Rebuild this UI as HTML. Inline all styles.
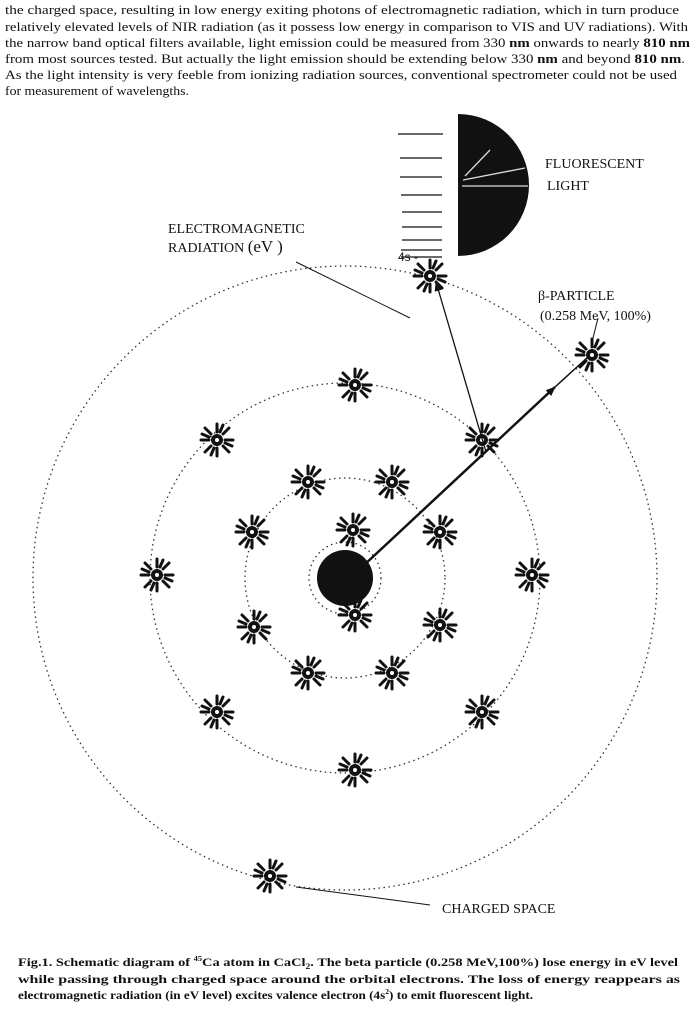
<!DOCTYPE html>
<html><head><meta charset="utf-8"><style>
body{margin:0;width:699px;height:1012px;background:#fff;position:relative;overflow:hidden;font-family:"Liberation Serif",serif;color:#111}
svg{position:absolute;left:0;top:0}
</style></head><body>
<svg width="699" height="1012" viewBox="0 0 699 1012">
<defs>
<g id="e">
<circle r="6" fill="#111"/>
<g stroke="#111" stroke-width="3" stroke-linecap="round">
<line x1="0" y1="-8" x2="0" y2="-16"/><line x1="0" y1="8" x2="0" y2="16"/>
<line x1="-8" y1="0" x2="-16" y2="0"/><line x1="8" y1="0" x2="16" y2="0"/>
<line x1="6" y1="6" x2="12" y2="12"/><line x1="-6" y1="6" x2="-12" y2="12"/>
<line x1="6" y1="-6" x2="12" y2="-12"/><line x1="-6" y1="-6" x2="-12" y2="-12"/>
<line x1="3" y1="-8" x2="6" y2="-15"/><line x1="-3" y1="8" x2="-6" y2="15"/>
<line x1="8" y1="3" x2="15" y2="6"/><line x1="-8" y1="-3" x2="-15" y2="-6"/>
</g><circle r="2" fill="#fff"/>
</g>
<marker id="a" markerWidth="10" markerHeight="8" refX="9" refY="4" orient="auto" markerUnits="userSpaceOnUse"><path d="M0,0 L10,4 L0,8 Z" fill="#111"/></marker>
</defs>
<g font-family="Liberation Serif,serif" font-size="13" fill="#111">
<text x="5" y="14" textLength="674" lengthAdjust="spacingAndGlyphs">the charged space, resulting in low energy exiting photons of electromagnetic radiation, which in turn produce</text>
<text x="5" y="31" textLength="683" lengthAdjust="spacingAndGlyphs">relatively elevated levels of NIR radiation (as it possess low energy in comparison to VIS and UV radiations). With</text>
<text x="5" y="47" textLength="685" lengthAdjust="spacingAndGlyphs">the narrow band optical filters available, light emission could be measured from 330 <tspan font-weight="bold">nm</tspan> onwards to nearly <tspan font-weight="bold">810 nm</tspan></text>
<text x="5" y="63" textLength="680" lengthAdjust="spacingAndGlyphs">from most sources tested. But actually the light emission should be extending below 330 <tspan font-weight="bold">nm</tspan> and beyond <tspan font-weight="bold">810 nm</tspan>.</text>
<text x="5" y="79" textLength="672" lengthAdjust="spacingAndGlyphs">As the light intensity is very feeble from ionizing radiation sources, conventional spectrometer could not be used</text>
<text x="5" y="95" textLength="184" lengthAdjust="spacingAndGlyphs">for measurement of wavelengths.</text>
</g>
<g font-family="Liberation Serif,serif" font-size="12" font-weight="bold" fill="#111">
<text x="18" y="966" textLength="660" lengthAdjust="spacingAndGlyphs">Fig.1. Schematic diagram of <tspan font-size="7" dy="-5">45</tspan><tspan dy="5">Ca atom in CaCl</tspan><tspan font-size="8" dy="3">2</tspan><tspan dy="-3">. The beta particle (0.258 MeV,100%) lose energy in eV level</tspan></text>
<text x="18" y="983" textLength="662" lengthAdjust="spacingAndGlyphs">while passing through charged space around the orbital electrons. The loss of energy reappears as</text>
<text x="18" y="999" textLength="515" lengthAdjust="spacingAndGlyphs">electromagnetic radiation (in eV level) excites valence electron (4s<tspan font-size="7" dy="-5">2</tspan><tspan dy="5">) to emit fluorescent light.</tspan></text>
</g>
<g fill="none" stroke="#333" stroke-width="1.3" stroke-dasharray="1.5 3.5">
<circle cx="345" cy="578" r="312"/>
<circle cx="345" cy="578" r="195"/>
<circle cx="345" cy="578" r="100"/>
<circle cx="345" cy="578" r="36"/>
</g>
<circle cx="345" cy="578" r="28" fill="#111"/>
<use href="#e" x="353" y="530"/><use href="#e" x="355" y="615"/>
<use href="#e" x="308" y="482"/><use href="#e" x="392" y="482"/>
<use href="#e" x="252" y="532"/><use href="#e" x="440" y="532"/>
<use href="#e" x="254" y="627"/><use href="#e" x="440" y="625"/>
<use href="#e" x="308" y="673"/><use href="#e" x="392" y="673"/>
<use href="#e" x="355" y="385"/><use href="#e" x="217" y="440"/><use href="#e" x="482" y="440"/>
<use href="#e" x="157" y="575"/><use href="#e" x="532" y="575"/>
<use href="#e" x="217" y="712"/><use href="#e" x="482" y="712"/><use href="#e" x="355" y="770"/>
<use href="#e" x="430" y="276"/><use href="#e" x="592" y="355"/><use href="#e" x="270" y="876"/>
<line x1="362" y1="567" x2="555" y2="387" stroke="#111" stroke-width="2.5" marker-end="url(#a)"/>
<line x1="555" y1="387" x2="588" y2="357" stroke="#111" stroke-width="1.5"/>
<line x1="486" y1="452" x2="436" y2="282" stroke="#111" stroke-width="1.3" marker-end="url(#a)"/>
<line x1="296" y1="262" x2="410" y2="318" stroke="#111" stroke-width="1"/>
<line x1="296" y1="887" x2="430" y2="905" stroke="#111" stroke-width="1"/>
<line x1="598" y1="318" x2="592" y2="342" stroke="#111" stroke-width="1"/>
<g stroke="#111" stroke-width="1.3">
<line x1="398" y1="134" x2="443" y2="134"/><line x1="400" y1="158" x2="442" y2="158"/>
<line x1="400" y1="177" x2="442" y2="177"/><line x1="401" y1="195" x2="442" y2="195"/>
<line x1="402" y1="212" x2="442" y2="212"/><line x1="402" y1="227" x2="442" y2="227"/>
<line x1="402" y1="240" x2="442" y2="240"/><line x1="401" y1="250" x2="442" y2="250"/>
<line x1="401" y1="257" x2="442" y2="257"/>
</g>
<path d="M458,114 A71,71 0 0 1 458,256 Z" fill="#111"/>
<g stroke="#ddd" stroke-width="1.3"><line x1="462" y1="186" x2="528" y2="186"/><line x1="463" y1="180" x2="525" y2="168"/><line x1="465" y1="176" x2="490" y2="150"/></g>
<g font-family="Liberation Serif,serif" font-size="14" fill="#111">
<text x="545" y="168">FLUORESCENT</text><text x="547" y="190">LIGHT</text>
<text x="168" y="233">ELECTROMAGNETIC</text><text x="168" y="252">RADIATION <tspan font-size="17">(eV )</tspan></text>
<text x="538" y="300">β-PARTICLE</text><text x="540" y="320">(0.258 MeV, 100%)</text>
<text x="442" y="913">CHARGED SPACE</text>
<text x="398" y="261" font-family="Liberation Sans,sans-serif" font-size="12">4s -</text>
</g>
</svg>
</body></html>
